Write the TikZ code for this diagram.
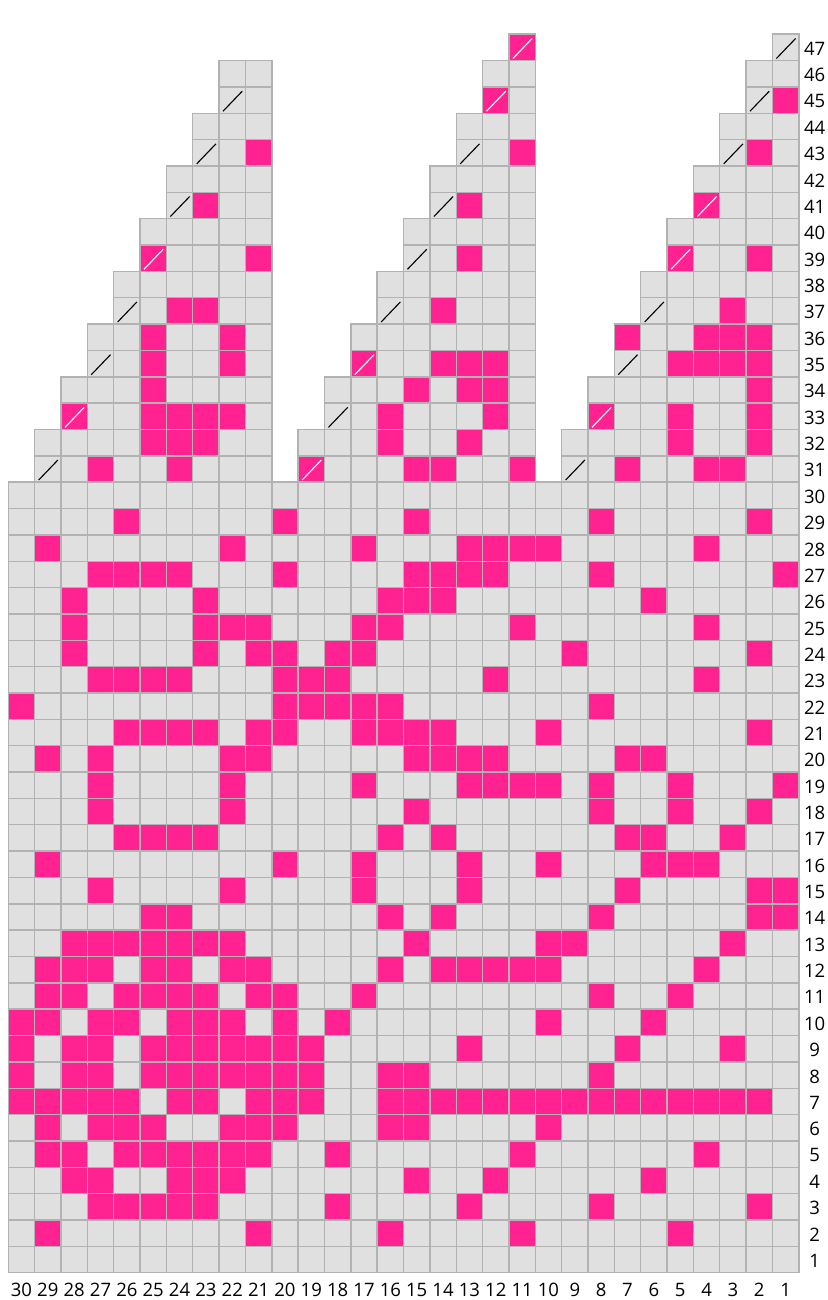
\documentclass[tikz,border=0pt]{standalone}
\usepackage{fontspec}
\setmainfont{Open Sans}
\usetikzlibrary{positioning}
\definecolor{cCell}{HTML}{E0E0E0}
\definecolor{cGrid}{HTML}{B2B2B2}
\definecolor{cPink}{HTML}{FF2290}

\begin{document}
\begin{tikzpicture}[x=0.5cm, y=0.5cm,
  plain/.style={fill=cCell, draw=cGrid, line width=0.8pt},
  dot/.style={fill=cPink, draw=cGrid, line width=0.8pt},
  dec/.style={draw=black, line width=0.6pt},
  decw/.style={draw=white, line width=0.6pt},
  lbl/.style={font=\fontsize{10}{12}\selectfont, inner sep=0pt, anchor=center},
]
  \useasboundingbox (-0.315,-1.036) rectangle (31.10,48.30);

  % body of the chart, rows 1-30
  \foreach \r in {1,...,30}
    \foreach \c in {1,...,30}
      \path[plain] (30-\c,\r-1) rectangle ++(1,1);

  % three decreasing points
  \foreach \L/\R/\t in {29/21/46, 19/11/47, 9/1/47}
    \foreach \r in {31,...,\t} {
      \pgfmathtruncatemacro\lft{\L-floor((\r-31)/2)}
      \foreach \c in {\R,...,\lft}
        \path[plain] (30-\c,\r-1) rectangle ++(1,1);
    }

  % contrast stitches
  \foreach \r/\cols in {
      2/{29,21,16,11,5},
      3/{27,26,25,24,23,18,13,8,2},
      4/{28,27,24,23,22,15,12,6},
      5/{29,28,26,25,24,23,22,21,18,11,4},
      6/{29,27,26,25,22,21,20,16,15,10},
      7/{30,29,28,27,26,24,23,21,20,19,16,15,14,13,12,11,10,9,8,7,6,5,4,3,2},
      8/{30,28,27,25,24,23,22,21,20,19,16,15,8},
      9/{30,28,27,25,24,23,22,21,20,19,13,7,3},
      10/{30,29,27,26,24,23,22,20,18,10,6},
      11/{29,28,26,25,24,23,21,20,17,8,5},
      12/{29,28,27,25,24,22,21,16,14,13,12,11,10,4},
      13/{28,27,26,25,24,23,22,15,10,9,3},
      14/{25,24,16,14,8,2,1},
      15/{27,22,17,13,7,2,1},
      16/{29,20,17,13,10,6,5,4},
      17/{26,25,24,23,16,14,7,6,3},
      18/{27,22,15,8,5,2},
      19/{27,22,17,13,12,11,10,8,5,1},
      20/{29,27,22,21,15,14,13,12,7,6},
      21/{26,25,24,23,21,20,17,16,15,14,10,2},
      22/{30,20,19,18,17,16,8},
      23/{27,26,25,24,20,19,18,12,4},
      24/{28,23,21,20,18,17,9,2},
      25/{28,23,22,21,17,16,11,4},
      26/{28,23,16,15,14,6},
      27/{27,26,25,24,20,15,14,13,12,8,1},
      28/{29,22,17,13,12,11,10,4},
      29/{26,20,15,8,2},
      31/{27,24,19,15,14,11,7,4,3},
      32/{25,24,23,16,13,5,2},
      33/{28,25,24,23,22,16,12,8,5,2},
      34/{25,15,13,12,2},
      35/{25,22,17,14,13,12,5,4,3,2},
      36/{25,22,7,4,3,2},
      37/{24,23,14,3},
      39/{25,21,13,5,2},
      41/{23,13,4},
      43/{21,11,2},
      45/{12,1},
      47/{11}}
    \foreach \c in \cols
      \path[dot] (30-\c,\r-1) rectangle ++(1,1);

  % decreases
  \foreach \c/\r in {29/31, 9/31, 18/33, 27/35, 7/35, 26/37, 16/37, 6/37,
                     15/39, 24/41, 14/41, 23/43, 13/43, 3/43, 22/45, 2/45, 1/47}
    \draw[dec] (30-\c+0.15,\r-0.92) -- (30-\c+0.88,\r-0.16);
  \foreach \c/\r in {19/31, 28/33, 8/33, 17/35, 25/39, 5/39, 4/41, 12/45, 11/47}
    \draw[decw] (30-\c+0.15,\r-0.92) -- (30-\c+0.88,\r-0.16);

  % numbering
  \foreach \r in {1,...,47}
    \node[lbl] (row\r) at (30.6,\r-0.55) {\r};
  \foreach \c in {1,...,30}
    \node[lbl] (col\c) at (30.5-\c,-0.66) {\c};
\end{tikzpicture}
\end{document}
